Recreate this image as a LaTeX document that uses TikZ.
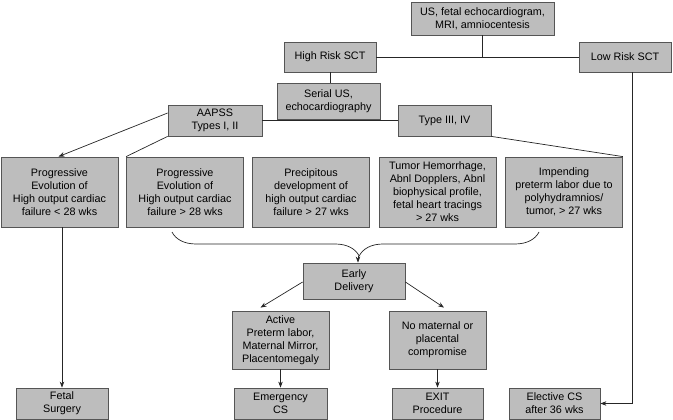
\documentclass[tikz,border=0pt]{standalone}
\usepackage{fontspec}
\setmainfont{Liberation Sans}
\usetikzlibrary{arrows.meta,decorations.pathreplacing}
\definecolor{boxgray}{RGB}{189,189,189}
\definecolor{edgegray}{RGB}{85,85,85}
\newcommand{\sctbox}[5]
{   \node[box,minimum width=#3pt,minimum height=#4pt] (#1) at (#2) {#5};
}
\begin{document}
\begin{tikzpicture}[x=1pt,y=-1pt,
  box/.style={draw=edgegray,fill=boxgray,line width=0.8pt,align=center,inner sep=0pt,
    font=\fontsize{10.8}{13}\selectfont},
  link/.style={draw=black!85,line width=0.7pt},
  arr/.style={link,-{Stealth[length=6pt,width=4.5pt]}}]

 \useasboundingbox (0,0) rectangle (673,420);

 % top of the tree
 \sctbox{exam}{482.5,18.5}{143}{33}{US, fetal echocardiogram,\\MRI, amniocentesis}
 \sctbox{high}{330,57}{92}{30}{High Risk SCT}
 \sctbox{low}{625,57}{92}{30}{Low Risk SCT}
 \sctbox{serial}{328.5,101}{103}{36}{Serial US,\\echocardiography}
 \sctbox{aapss}{215,120.5}{94}{31}{AAPSS\\Types I, II}
 \sctbox{type}{444.5,120.5}{93}{31}{Type III, IV}

 % indications
 \sctbox{ind1}{59.5,192}{117}{70}{Progressive\\Evolution of\\High output cardiac\\failure < 28 wks}
 \sctbox{ind2}{185,192}{117}{70}{Progressive\\Evolution of\\High output cardiac\\failure > 28 wks}
 \sctbox{ind3}{311,192}{117}{70}{Precipitous\\development of\\high output cardiac\\failure > 27 wks}
 \sctbox{ind4}{437.5,192}{117}{70}{Tumor Hemorrhage,\\Abnl Dopplers, Abnl\\biophysical profile,\\fetal heart tracings\\> 27 wks}
 \sctbox{ind5}{564,192}{117}{70}{Impending\\preterm labor due to\\polyhydramnios/\\tumor, > 27 wks}

 % delivery
 \sctbox{early}{354,281}{102}{36}{Early\\Delivery}
 \sctbox{active}{280.5,340}{97}{58}{Active\\Preterm labor,\\Maternal Mirror,\\Placentomegaly}
 \sctbox{nomat}{437.5,340}{97}{58}{No maternal or\\placental\\compromise}
 \sctbox{fetal}{62,403.5}{92}{31}{Fetal\\Surgery}
 \sctbox{emerg}{280.5,403.5}{93}{31}{Emergency\\CS}
 \sctbox{exit}{437.5,403.5}{91}{31}{EXIT\\Procedure}
 \sctbox{elect}{554.5,403.5}{91}{31}{Elective CS\\after 36 wks}

 \coordinate (bl) at (172,232);
 \coordinate (br) at (539,232);
 \coordinate (tip) at (358,256);

   \draw[link] (high.east) -- (low.west);
   \draw[link] (exam.south) -- (exam.south |- high.east);
   \draw[link] (high.south) -- (high.south |- serial.north);
   \draw[link] (aapss.east) -- (type.west);
   \draw[arr] ([yshift=7.5pt]aapss.west) -- ([xshift=-1pt]ind1.north);
   \draw[link] (aapss.south west) -- (ind2.north west);
   \draw[link] (type.south east) -- (ind5.north east);
   \draw[arr] (fetal.north |- ind1.south) -- (fetal.north);
   \draw[link,decorate,decoration={brace,mirror,amplitude=24pt,aspect=0.51}] (bl) -- (br);
   \draw[arr] (tip) -- (tip |- early.north);
   \draw[arr] ([yshift=-1pt]early.west) -- ([xshift=-20pt,yshift=3pt]active.north);
   \draw[arr] ([yshift=-1pt]early.east) -- ([xshift=6.5pt,yshift=3pt]nomat.north);
   \draw[arr] (active.south) -- (emerg.north);
   \draw[arr] (nomat.south) -- (exit.north);
   \draw[arr] ([xshift=7pt]low.south) |- (elect.east);

 \end{tikzpicture}
\end{document}
